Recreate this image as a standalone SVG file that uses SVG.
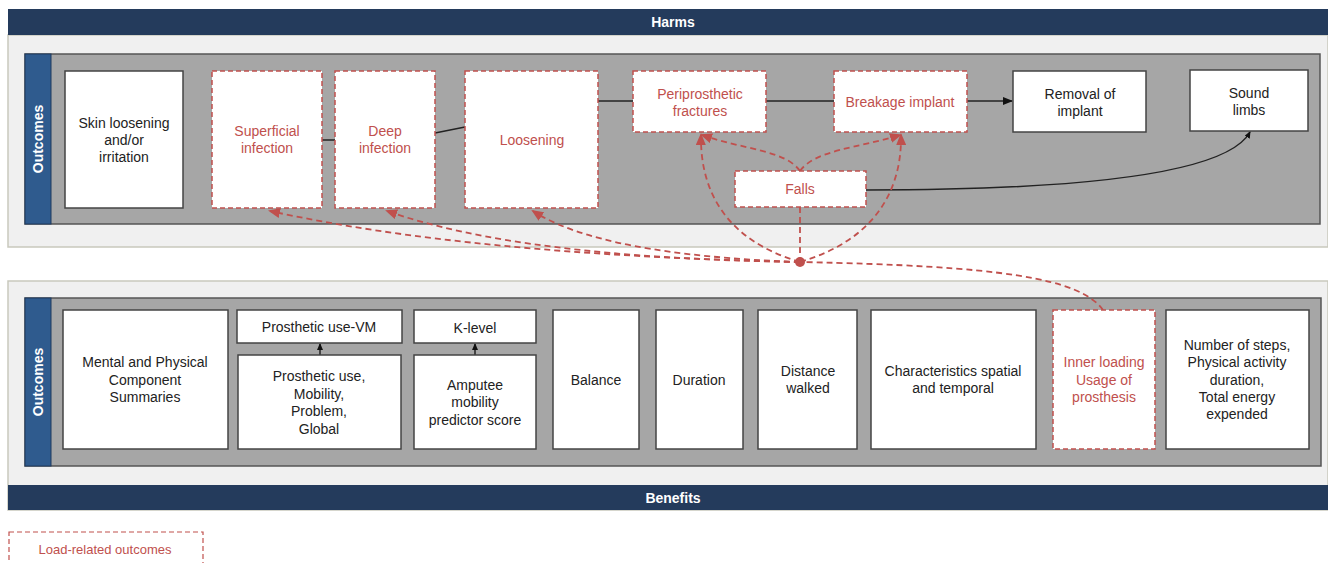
<svg xmlns="http://www.w3.org/2000/svg" width="1328" height="563" viewBox="0 0 1328 563">
<defs>
<style>
.t{font-family:"Liberation Sans",Arial,sans-serif;font-size:14px;fill:#222;text-anchor:middle}
.r{fill:#c0504d}
.hd{font-family:"Liberation Sans",Arial,sans-serif;font-size:14px;font-weight:bold;fill:#fff;text-anchor:middle}
.box{fill:#fff;stroke:#444;stroke-width:1.5}
.dbox{fill:#fff;stroke:#c0504d;stroke-width:1.5;stroke-dasharray:5 3}
.panel{fill:#f0f0f0;stroke:#c9c9bd;stroke-width:1.5}
.inner{fill:#a6a6a6;stroke:#555;stroke-width:1.5}
.side{fill:#2f5b8e;stroke:#1f3a5f;stroke-width:1}
.bar{fill:#243b5c}
.ln{fill:none;stroke:#222;stroke-width:1.5}
.dl{fill:none;stroke:#c0504d;stroke-width:1.8;stroke-dasharray:6 4}
</style>
<marker id="ab" markerWidth="10" markerHeight="8" refX="9" refY="4" orient="auto" markerUnits="userSpaceOnUse"><path d="M0,0 L10,4 L0,8 z" fill="#111"/></marker>
<marker id="as" markerWidth="7" markerHeight="6" refX="6" refY="3" orient="auto" markerUnits="userSpaceOnUse"><path d="M0,0 L7,3 L0,6 z" fill="#111"/></marker>
<marker id="ar" markerWidth="12" markerHeight="10" refX="10" refY="5" orient="auto" markerUnits="userSpaceOnUse"><path d="M0,0 L12,5 L0,10 z" fill="#c0504d"/></marker>
</defs>

<g id="harms-panel">
<rect class="panel" x="8" y="35" width="1320" height="212"/>
<rect class="bar" x="8" y="9" width="1320" height="26"/>
<text class="hd" x="673" y="27">Harms</text>
<rect class="inner" x="25" y="54" width="1295" height="170"/>
<rect class="side" x="25" y="54" width="26" height="170"/>
<text class="hd" transform="translate(43,139) rotate(-90)">Outcomes</text>
</g>

<g id="benefits-panel">
<rect class="panel" x="8" y="281" width="1320" height="229"/>
<rect class="bar" x="8" y="485" width="1320" height="25"/>
<text class="hd" x="673" y="503">Benefits</text>
<rect class="inner" x="25" y="298" width="1296" height="168"/>
<rect class="side" x="25" y="298" width="26" height="168"/>
<text class="hd" transform="translate(43,382) rotate(-90)">Outcomes</text>
</g>

<g id="connectors">
<line class="ln" x1="322" y1="140" x2="335" y2="140"/>
<line class="ln" x1="435" y1="133" x2="465" y2="127"/>
<line class="ln" x1="598" y1="101" x2="633" y2="101"/>
<line class="ln" x1="766" y1="101" x2="834" y2="101"/>
<line class="ln" x1="967" y1="101" x2="1012" y2="101" marker-end="url(#ab)"/>
<path class="ln" d="M866,190 C1050,190 1225,178 1250,132" marker-end="url(#as)"/>
<line class="ln" x1="320" y1="355" x2="320" y2="344" marker-end="url(#as)"/>
<line class="ln" x1="475" y1="355" x2="475" y2="344" marker-end="url(#as)"/>
<path class="dl" d="M1103,310 C1080,278 1000,266 800,262"/>
<path class="dl" d="M800,262 Q470,255 270,211" marker-end="url(#ar)"/>
<path class="dl" d="M800,262 Q520,258 387,211" marker-end="url(#ar)"/>
<path class="dl" d="M800,262 Q600,255 533,211" marker-end="url(#ar)"/>
<path class="dl" d="M800,262 C725,240 700,190 701,135" marker-end="url(#ar)"/>
<path class="dl" d="M800,262 C875,240 902,190 901,135" marker-end="url(#ar)"/>
<path class="dl" d="M800,171 C785,150 745,150 702,135" marker-end="url(#ar)"/>
<path class="dl" d="M800,171 C815,150 858,148 900,135" marker-end="url(#ar)"/>
<line class="dl" x1="800" y1="207" x2="800" y2="262"/>
<circle cx="800" cy="262" r="5" fill="#c0504d"/>
</g>

<g id="skin"><rect class="box" x="65" y="71" width="118" height="137"/>
<text class="t" x="124" y="128">Skin loosening</text><text class="t" x="124" y="145">and/or</text><text class="t" x="124" y="162">irritation</text></g>
<g id="superficial"><rect class="dbox" x="212" y="71" width="110" height="137"/>
<text class="t r" x="267" y="136">Superficial</text><text class="t r" x="267" y="153">infection</text></g>
<g id="deep"><rect class="dbox" x="335" y="71" width="100" height="137"/>
<text class="t r" x="385" y="136">Deep</text><text class="t r" x="385" y="153">infection</text></g>
<g id="loosening"><rect class="dbox" x="465" y="71" width="133" height="137"/>
<text class="t r" x="532" y="145">Loosening</text></g>
<g id="periprosthetic"><rect class="dbox" x="633" y="71" width="133" height="61"/>
<text class="t r" x="700" y="99">Periprosthetic</text><text class="t r" x="700" y="116">fractures</text></g>
<g id="breakage"><rect class="dbox" x="834" y="71" width="133" height="61"/>
<text class="t r" x="900" y="107">Breakage implant</text></g>
<g id="removal"><rect class="box" x="1013" y="71" width="133" height="61"/>
<text class="t" x="1080" y="99">Removal of</text><text class="t" x="1080" y="116">implant</text></g>
<g id="sound"><rect class="box" x="1190" y="70" width="118" height="61"/>
<text class="t" x="1249" y="98">Sound</text><text class="t" x="1249" y="115">limbs</text></g>
<g id="falls"><rect class="dbox" x="735" y="171" width="131" height="36"/>
<text class="t r" x="800" y="194">Falls</text></g>

<g id="mental"><rect class="box" x="63" y="310" width="165" height="139"/>
<text class="t" x="145" y="367">Mental and Physical</text><text class="t" x="145" y="385">Component</text><text class="t" x="145" y="402">Summaries</text></g>
<g id="prosthetic-vm"><rect class="box" x="237" y="310" width="165" height="33"/>
<text class="t" x="319" y="332">Prosthetic use-VM</text></g>
<g id="prosthetic-use"><rect class="box" x="238" y="355" width="163" height="94"/>
<text class="t" x="319" y="381">Prosthetic use,</text><text class="t" x="319" y="399">Mobility,</text><text class="t" x="319" y="416">Problem,</text><text class="t" x="319" y="434">Global</text></g>
<g id="k-level"><rect class="box" x="414" y="310" width="122" height="33"/>
<text class="t" x="475" y="333">K-level</text></g>
<g id="amputee"><rect class="box" x="414" y="355" width="122" height="94"/>
<text class="t" x="475" y="390">Amputee</text><text class="t" x="475" y="407">mobility</text><text class="t" x="475" y="425">predictor score</text></g>
<g id="balance"><rect class="box" x="553" y="310" width="86" height="139"/>
<text class="t" x="596" y="385">Balance</text></g>
<g id="duration"><rect class="box" x="656" y="310" width="87" height="139"/>
<text class="t" x="699" y="385">Duration</text></g>
<g id="distance"><rect class="box" x="758" y="310" width="99" height="139"/>
<text class="t" x="808" y="376">Distance</text><text class="t" x="808" y="393">walked</text></g>
<g id="characteristics"><rect class="box" x="871" y="310" width="165" height="139"/>
<text class="t" x="953" y="376">Characteristics spatial</text><text class="t" x="953" y="393">and temporal</text></g>
<g id="inner-loading"><rect class="dbox" x="1053" y="310" width="102" height="139"/>
<text class="t r" x="1104" y="367">Inner loading</text><text class="t r" x="1104" y="385">Usage of</text><text class="t r" x="1104" y="402">prosthesis</text></g>
<g id="steps"><rect class="box" x="1166" y="310" width="143" height="139"/>
<text class="t" x="1237" y="350">Number of steps,</text><text class="t" x="1237" y="367">Physical activity</text><text class="t" x="1237" y="385">duration,</text><text class="t" x="1237" y="402">Total energy</text><text class="t" x="1237" y="419">expended</text></g>

<g id="legend"><rect x="9" y="532" width="194" height="40" fill="#fff" stroke="#c0504d" stroke-width="1.2" stroke-dasharray="5 3"/>
<text class="t r" x="105" y="554" style="font-size:13px">Load-related outcomes</text></g>
</svg>
